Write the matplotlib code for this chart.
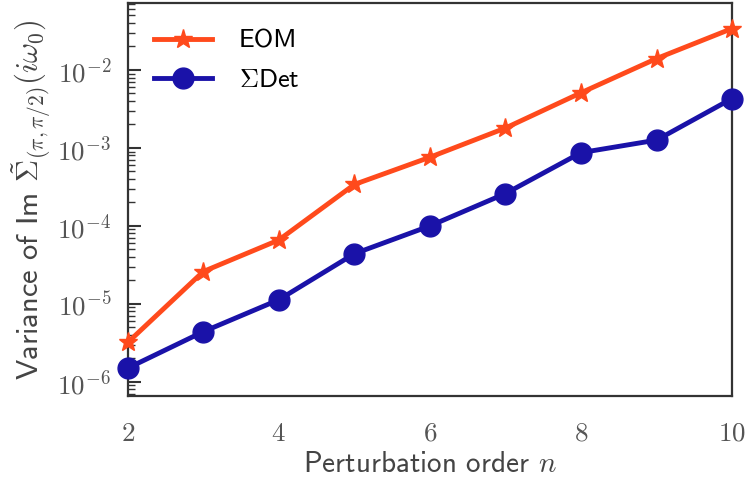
import matplotlib
matplotlib.use("Agg")
from matplotlib import pyplot as plt

plt.rcParams["mathtext.fontset"] = "cm"
plt.rcParams["font.family"] = ["cmss10", "DejaVu Sans"]
plt.rcParams["axes.formatter.use_mathtext"] = True

orders = [2, 3, 4, 5, 6, 7, 8, 9, 10]
eom = [3.2e-6, 2.6e-5, 6.6e-5, 3.4e-4, 7.6e-4, 1.8e-3, 5.1e-3, 1.4e-2, 3.4e-2]
sigma_det = [1.5e-6, 4.4e-6, 1.13e-5, 4.4e-5, 1.0e-4, 2.6e-4, 8.7e-4, 1.26e-3, 4.3e-3]
LABELS = ["EOM", r"$\Sigma$Det"]

fig = plt.figure(figsize=(7.47, 4.84), dpi=100)
ax = fig.add_axes([0.171, 0.182, 0.809, 0.812])

ax.plot(orders, eom, color="#ff4a1c", marker="*", markersize=14, lw=3.5,
        label=LABELS[0], clip_on=False, zorder=3)
ax.plot(orders, sigma_det, color="#1a12a8", marker="o", markersize=15, lw=3.5,
        label=LABELS[1], clip_on=False, zorder=3)

ax.set_yscale("log")
ax.set_xlim(2, 10)
ax.set_ylim(10 ** -6.18, 10 ** -1.14)
ax.set_xticks([2, 4, 6, 8, 10])
ax.set_yticks([1e-6, 1e-5, 1e-4, 1e-3, 1e-2])
ax.set_yticklabels([r"$10^{-6}$", r"$10^{-5}$", r"$10^{-4}$", r"$10^{-3}$", r"$10^{-2}$"])
ax.set_xticklabels([r"$%d$" % v for v in [2, 4, 6, 8, 10]])

ax.tick_params(axis="y", which="major", direction="in", length=9, width=1.5,
               labelsize=19.5, colors="#333333", labelcolor="#555555", pad=12)
ax.tick_params(axis="y", which="minor", direction="in", length=5, width=1.0,
               colors="#333333")
ax.tick_params(axis="x", which="both", length=0, labelsize=19.5,
               labelcolor="#555555", pad=18)

for s in ax.spines.values():
    s.set_linewidth(1.6)
    s.set_color("#333333")

ax.set_xlabel(r"Perturbation order $n$", fontsize=21, color="#444444", labelpad=4)
ax.set_ylabel(r"Variance of Im $\tilde{\Sigma}_{(\pi,\pi/2)}(i\omega_0)$",
              fontsize=22, color="#444444", labelpad=4)

ax.legend(loc="upper left", frameon=False, fontsize=19, handlelength=2.2,
          borderaxespad=0.6, labelspacing=0.6, handletextpad=1.0)

fig.savefig("out.png", dpi=100)
